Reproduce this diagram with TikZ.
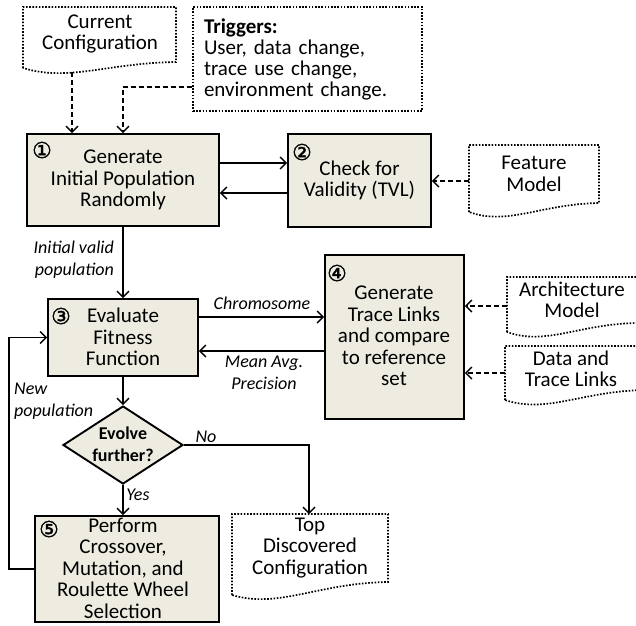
\documentclass[tikz,border=0pt]{standalone}
\usepackage{fontspec}
\setmainfont{Carlito}
\newfontfamily\circfont[FakeBold=1.5]{DejaVu Sans}
\usetikzlibrary{arrows.meta,shapes.geometric,calc}
\definecolor{boxfill}{HTML}{EEECE1}
\newcommand\docshape[5]{% x0, ytop, x1, yR, yL
  \draw[dotline] (#1,#5) -- (#1,#2) -- (#3,#2) -- (#3,#4)
    .. controls ({#1+0.55*(#3-#1)},{#4+1}) and ({#1+0.3*(#3-#1)},{#5+14}) .. (#1,#5);
}
\begin{document}
\begin{tikzpicture}[x=1pt,y=-1pt,
  box/.style={draw, line width=1.9pt, fill=boxfill, inner sep=0, align=center, font=\fontsize{21}{21.5}\selectfont},
  txt/.style={align=center, inner sep=0, font=\fontsize{21}{21.5}\selectfont},
  lbl/.style={inner sep=0, font=\fontsize{18}{22}\selectfont\itshape},
  num/.style={inner sep=0, font=\circfont\fontsize{22}{22}\selectfont},
  arr/.style={line width=1.4pt, -{Straight Barb[length=6pt,width=12pt,line width=1.4pt]}},
  darr/.style={arr, dash pattern=on 5pt off 3pt},
  dotline/.style={line width=1.7pt, dash pattern=on 1.6pt off 1.6pt},
]
\useasboundingbox (0,0) rectangle (636,625);

% main boxes
\node (b1) [box, minimum width=192, minimum height=92] at (123,180) {Generate\\Initial Population\\Randomly};
\node (b2) [box, minimum width=143, minimum height=93] at (359.5,180.5) {Check for\\Validity (TVL)};
\node (b3) [box, minimum width=150, minimum height=77] at (123,337.5) {};
\node (b3t) [txt] at (123,337) {Evaluate\\Fitness\\Function};
\node (b4) [box, minimum width=139, minimum height=164] at (394.5,337) {};
\node (b4t) [txt] at (394,336) {Generate\\Trace Links\\and compare\\to reference\\set};
\node (b5) [box, minimum width=184, minimum height=106] at (127,569) {};
\node (b5t) [txt] at (123,568) {Perform\\Crossover,\\Mutation, and\\Roulette Wheel\\Selection};
\node (dia) [diamond, draw, line width=1.9pt, fill=boxfill, minimum width=120, minimum height=78, inner sep=0] at (123,445) {};
\node (diat) [txt, font=\fontsize{18}{22}\selectfont\bfseries] at (123,444) {Evolve\\further?};

% numbers
\node[num] (n1) at (42,150) {①};
\node[num] (n2) at (302,152) {②};
\node[num] (n3) at (61,316) {③};
\node[num] (n4) at (337,273) {④};
\node[num] (n5) at (49,529) {⑤};

% documents
\docshape{23}{7}{176}{62}{68}
\node (cc) [txt] at (100,34) {Current\\Configuration};
\docshape{469}{145}{599}{203}{212}
\node (fm) [txt] at (534,174) {Feature\\Model};
\docshape{507}{277}{637}{323}{332}
\node (am) [txt] at (572,300) {Architecture\\Model};
\docshape{505}{346}{645}{390}{400}
\node (dt) [txt] at (571,369) {Data and\\Trace Links};
\docshape{232}{514}{388}{582}{595}
\node (td) [txt] at (310,548) {Top\\Discovered\\Configuration};

\node (trig) [draw, dotline, minimum width=229, minimum height=104, text width=207, inner xsep=11, inner ysep=0, align=left, font=\fontsize{21}{21}\selectfont] at (307.5,59) {\textbf{Triggers:}\\User, data change,\\trace use change,\\environment change.};

% coordinates of free ends
\coordinate (ccb) at (72,72);
\coordinate (fmw) at (469,181);
\coordinate (amw) at (507,306);
\coordinate (dtw) at (505,373);
\coordinate (tdn) at (309,514);

% connectors
\draw[darr] (ccb) -- (ccb |- b1.north);
\draw[darr] (trig.west |- 0,87) -| (b1.north);
\draw[arr] (b1.east |- 0,163) -- (b2.west |- 0,163);
\draw[arr] (b2.west |- 0,193) -- (b1.east |- 0,193);
\draw[darr] (fmw) -- (b2.east |- fmw);
\draw[arr] (b1.south) -- (b3.north);
\draw[arr] (b3.east |- 0,317) -- (b4.west |- 0,317);
\draw[arr] (b4.west |- 0,351) -- (b3.east |- 0,351);
\draw[darr] (amw) -- (b4.east |- amw);
\draw[darr] (dtw) -- (b4.east |- dtw);
\draw[arr] (b3.south) -- (dia.north);
\draw[arr] (dia.south) -- (dia.south |- b5.north);
\draw[arr] (dia.east) -| (tdn);
\draw[arr] (b5.west) -- (9,569) |- (b3.west);

% labels
\node (l1) [lbl, align=right, anchor=east] at (114,260) {Initial valid\\population};
\node (l2) [lbl] at (262,303) {Chromosome};
\node (l3) [lbl, align=center] at (264,373) {Mean Avg.\\Precision};
\node (l4) [lbl, align=left, anchor=west] at (14,401) {New\\population};
\node (l5) [lbl] at (138,495) {Yes};
\node (l6) [lbl] at (206,437) {No};
\end{tikzpicture}
\end{document}
